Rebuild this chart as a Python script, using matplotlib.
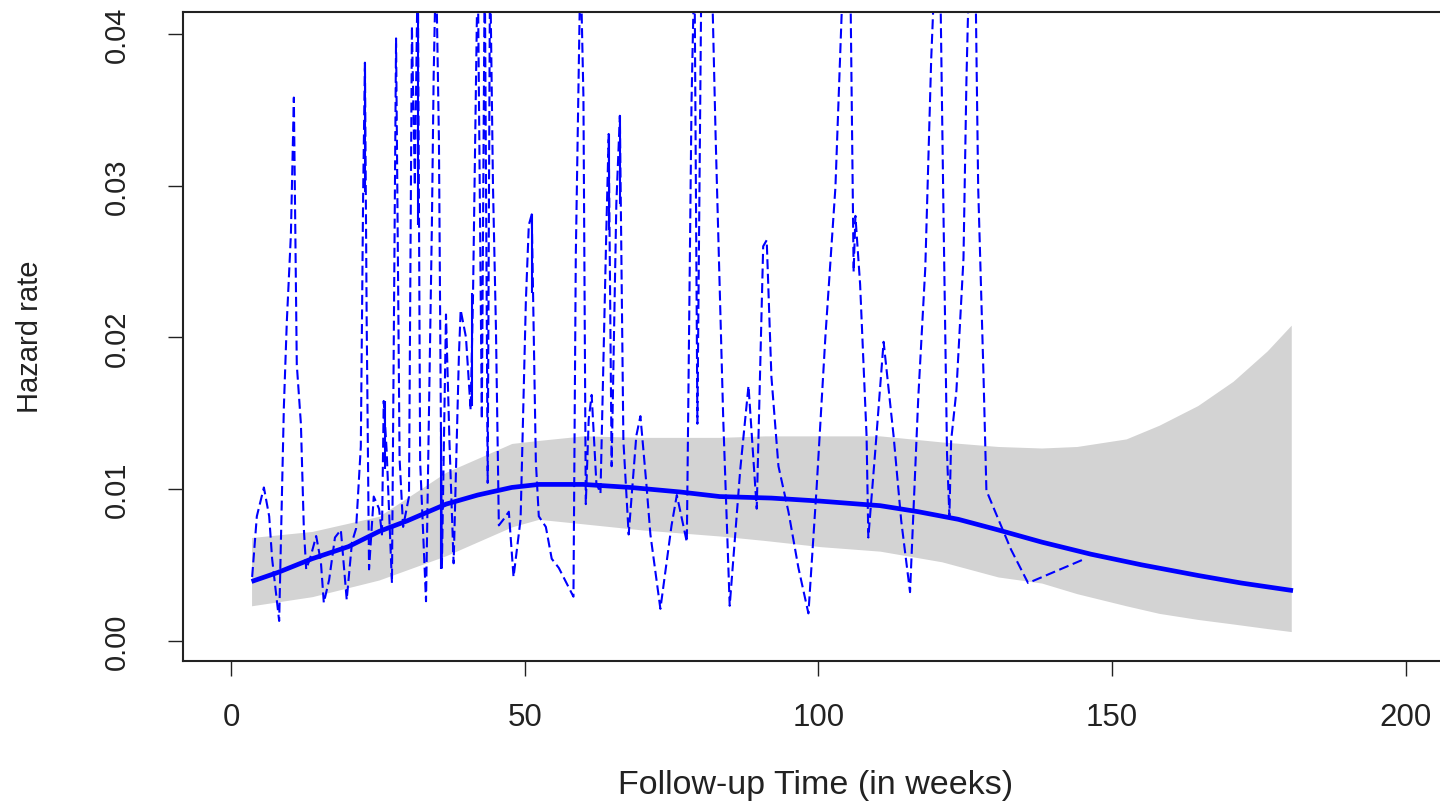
import matplotlib
matplotlib.use("Agg")
import matplotlib.pyplot as plt

plt.rcParams['font.family'] = ['Liberation Sans', 'DejaVu Sans']

# ---- data ----
# raw (kernel-free) hazard estimates, drawn dashed
haz_t = [3.6, 4.4, 5.6, 6.5, 7.0, 8.2, 9.0, 9.5, 10.2, 10.7, 11.2, 11.9, 12.4, 12.8,
         13.6, 14.5, 15.3, 15.8, 16.7, 17.7, 18.7, 19.7, 20.6, 21.3, 22.1, 22.5, 22.8,
         23.1, 23.5, 24.3, 25.2, 25.7, 26.0, 26.5, 27.4, 28.1, 28.7, 29.3, 30.3, 30.8,
         31.3, 31.8, 32.2, 33.2, 34.2, 34.5, 34.9, 35.4, 35.9, 36.6, 37.2, 37.9, 38.8,
         39.1, 40.0, 40.8, 41.2, 42.0, 42.7, 43.2, 43.7, 44.1, 44.6, 45.1, 45.6, 46.4,
         47.3, 48.1, 49.3, 50.2, 50.7, 51.2, 51.9, 52.4, 53.6, 54.6, 55.8, 58.3, 58.7,
         59.5, 60.0, 60.4, 60.9, 61.4, 62.2, 62.9, 63.9, 64.3, 64.8, 65.6, 66.2, 66.8,
         67.7, 69.0, 69.7, 70.7, 71.4, 73.1, 75.0, 75.9, 77.6, 78.4, 78.9, 79.4, 80.1,
         81.8, 82.5, 83.8, 84.9, 86.7, 88.1, 89.5, 90.6, 91.2, 92.0, 93.2, 94.9, 96.6,
         98.3, 99.7, 101.2, 102.9, 104.3, 105.4, 106.0, 106.3, 107.1, 108.2, 108.5,
         109.7, 111.1, 112.8, 114.1, 115.6, 117.0, 118.2, 119.2, 119.9, 120.7, 121.3,
         121.9, 122.3, 122.6, 123.5, 124.7, 125.2, 125.7, 126.7, 127.2, 128.1, 128.6,
         130.1, 132.8, 135.7, 145.4]
haz_h = [0.0042, 0.0082, 0.0101, 0.0082, 0.0054, 0.0013, 0.0154, 0.0210, 0.0268, 0.0358,
         0.0182, 0.0143, 0.0074, 0.0047, 0.0056, 0.0069, 0.0052, 0.0025, 0.0040, 0.0068,
         0.0073, 0.0027, 0.0065, 0.0074, 0.0128, 0.0296, 0.0381, 0.0210, 0.0047, 0.0095,
         0.0087, 0.0070, 0.0158, 0.0125, 0.0038, 0.0397, 0.0120, 0.0075, 0.0095, 0.0405,
         0.0300, 0.0450, 0.0118, 0.0026, 0.0274, 0.0372, 0.0450, 0.0330, 0.0048, 0.0215,
         0.0130, 0.0051, 0.0188, 0.0218, 0.0200, 0.0152, 0.0227, 0.0450, 0.0146, 0.0450,
         0.0104, 0.0450, 0.0300, 0.0207, 0.0076, 0.0080, 0.0085, 0.0042, 0.0080, 0.0224,
         0.0274, 0.0281, 0.0118, 0.0082, 0.0075, 0.0054, 0.0048, 0.0029, 0.0254, 0.0450,
         0.0358, 0.0090, 0.0146, 0.0162, 0.0104, 0.0097, 0.0271, 0.0334, 0.0115, 0.0288,
         0.0346, 0.0132, 0.0070, 0.0135, 0.0148, 0.0104, 0.0070, 0.0021, 0.0076, 0.0096,
         0.0065, 0.0355, 0.0450, 0.0143, 0.0450, 0.0450, 0.0333, 0.0146, 0.0023, 0.0113,
         0.0168, 0.0087, 0.0260, 0.0264, 0.0174, 0.0115, 0.0085, 0.0048, 0.0018, 0.0101,
         0.0201, 0.0299, 0.0450, 0.0450, 0.0243, 0.0280, 0.0235, 0.0135, 0.0068, 0.0126,
         0.0197, 0.0135, 0.0079, 0.0032, 0.0160, 0.0246, 0.0383, 0.0450, 0.0450, 0.0280,
         0.0123, 0.0082, 0.0132, 0.0165, 0.0252, 0.0369, 0.0450, 0.0450, 0.0299, 0.0176,
         0.0099, 0.0085, 0.0060, 0.0038, 0.0054]

# segments that look solid (line retraced over itself)
solid_t = [22.8, 26.3, 31.8, 35.7, 41.0, 51.2, 64.3, 66.2]
solid_lo = [0.0296, 0.0113, 0.0274, 0.0047, 0.0155, 0.0229, 0.0271, 0.0288]
solid_hi = [0.0381, 0.0158, 0.0415, 0.0140, 0.0229, 0.0281, 0.0334, 0.0346]

# smoothed hazard estimate
smooth_t = [3.5, 8, 13.8, 20, 25.2, 30, 36.6, 42, 47.8, 52.4, 60, 68, 76.5, 83.2, 92,
            100.3, 107, 110.5, 117, 123.8, 130.6, 138, 146.4, 155, 164.6, 172, 180.8]
smooth_h = [0.0039, 0.0045, 0.0054, 0.0062, 0.0072, 0.0079, 0.0090, 0.0096, 0.0101,
            0.0103, 0.0103, 0.0101, 0.0098, 0.0095, 0.0094, 0.0092, 0.0090, 0.0089,
            0.0085, 0.0080, 0.0073, 0.0065, 0.0057, 0.0050, 0.0043, 0.0038, 0.0033]

# confidence band
band_t = [3.5, 13.8, 25.2, 36.6, 47.8, 52.4, 60, 70, 83.2, 91, 100.3, 110.5, 121, 130.6,
          138, 144, 152.4, 158, 164.6, 170.6, 176.4, 180.5]
band_hi = [0.0068, 0.0072, 0.0082, 0.0111, 0.0130, 0.0132, 0.0135, 0.0134, 0.0134, 0.0135,
           0.0135, 0.0135, 0.0131, 0.0128, 0.0127, 0.0128, 0.0133, 0.0142, 0.0155, 0.0171,
           0.0191, 0.0208]
band_lo = [0.0023, 0.0029, 0.0040, 0.0056, 0.0075, 0.0080, 0.0077, 0.0073, 0.0069, 0.0066,
           0.0062, 0.0059, 0.0052, 0.0042, 0.0038, 0.0031, 0.0023, 0.0018, 0.0014, 0.0011,
           0.0008, 0.0006]

x_ticks = [0, 50, 100, 150, 200]
y_ticks = [0.00, 0.01, 0.02, 0.03, 0.04]
y_ticklabels = ["0.00", "0.01", "0.02", "0.03", "0.04"]

# ---- figure ----
W, H = 1440, 804
fig = plt.figure(figsize=(W / 100, H / 100), dpi=100)
left_px, right_px, top_px, bot_px = 183.3, 1471, 13.3, 661.7
ax = fig.add_axes([left_px / W, 1 - bot_px / H, (right_px - left_px) / W, (bot_px - top_px) / H])

ax.fill_between(band_t, band_lo, band_hi, color='#D3D3D3', linewidth=0, zorder=1)
ax.plot(haz_t, haz_h, color='#0000FF', lw=1.5, dashes=[4.8, 2.2], zorder=2)
ax.vlines(solid_t, solid_lo, solid_hi, color='#0000FF', lw=1.5, zorder=2)
ax.plot(smooth_t, smooth_h, color='#0000FF', lw=3.4, solid_capstyle='butt', zorder=3)

ax.set_xlim(-8.12, 211.1)
ax.set_ylim(-0.00132, 0.04142)

ax.set_xticks(x_ticks)
ax.set_xticklabels([str(v) for v in x_ticks])
ax.set_yticks(y_ticks)
ax.set_yticklabels(y_ticklabels, rotation=90, va='center')

for s in ax.spines.values():
    s.set_linewidth(1.5)
    s.set_color('#222222')

ax.tick_params(axis='x', length=11, width=1.0, pad=19, labelsize=22.5, colors='#222222')
ax.tick_params(axis='y', length=11, width=1.0, pad=27, labelsize=21, colors='#222222')

fig.text(816 / W, 1 - 786 / H, "Follow-up Time (in weeks)", ha='center', va='center',
         fontsize=24.5, color='#222222')
fig.text(30 / W, 1 - 337 / H, "Hazard rate", ha='center', va='center', rotation=90,
         fontsize=21, color='#222222')

fig.savefig("out.png", dpi=100)
